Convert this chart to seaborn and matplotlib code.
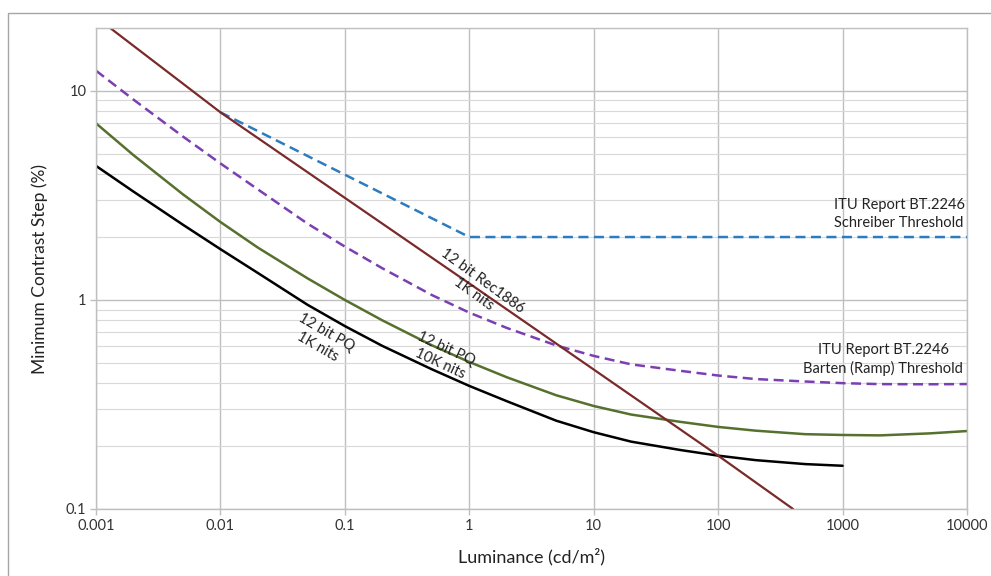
import matplotlib
matplotlib.use("Agg")
import matplotlib.pyplot as plt
from matplotlib.patches import Rectangle
from matplotlib.ticker import FixedLocator, NullLocator, NullFormatter
import seaborn as sns

# values (luminance in cd/m2, contrast step in %)
rec1886_x = [0.0013, 0.01, 1, 100, 400]
rec1886_y = [20, 7.9, 1.2, 0.18, 0.1]

schreiber_x = [0.01, 1, 10000]
schreiber_y = [7.9, 2, 2]

barten_x = [0.001, 0.002, 0.005, 0.01, 0.02, 0.05, 0.1, 0.2, 0.5, 1, 2, 5, 10,
            20, 50, 100, 200, 500, 1000, 2000, 5000, 10000]
barten_y = [12.5, 9.09, 6.05, 4.5, 3.38, 2.32, 1.8, 1.418, 1.056, 0.87, 0.735, 0.606, 0.54,
            0.492, 0.458, 0.435, 0.4185, 0.4073, 0.40, 0.3957, 0.395, 0.396]

pq10k_x = [0.001, 0.002, 0.005, 0.01, 0.02, 0.05, 0.1, 0.2, 0.5, 1, 2, 5, 10,
           20, 50, 100, 200, 500, 1000, 2000, 5000, 10000]
pq10k_y = [7.0, 4.93, 3.20, 2.36, 1.78, 1.27, 1.0, 0.799, 0.607, 0.505, 0.427, 0.350, 0.311,
           0.283, 0.261, 0.247, 0.237, 0.228, 0.226, 0.225, 0.230, 0.236]

pq1k_x = [0.001, 0.002, 0.005, 0.01, 0.02, 0.05, 0.1, 0.2, 0.5, 1, 2, 5, 10,
          20, 50, 100, 200, 500, 1000]
pq1k_y = [4.38, 3.30, 2.29, 1.75, 1.346, 0.949, 0.75, 0.603, 0.466, 0.388, 0.328, 0.2645, 0.233,
          0.210, 0.1914, 0.18, 0.1713, 0.164, 0.161]

x_ticks = [0.001, 0.01, 0.1, 1, 10, 100, 1000, 10000]
x_tick_labels = ["0.001", "0.01", "0.1", "1", "10", "100", "1000", "10000"]
y_ticks = [0.1, 1, 10]
y_tick_labels = ["0.1", "1", "10"]

sns.set_theme(style="white")
plt.rcParams['font.family'] = ['Lato', 'DejaVu Sans']

fig = plt.figure(figsize=(9.91, 5.76), dpi=100)
ax = fig.add_axes([96 / 991, 1 - 509 / 576, 871 / 991, 481 / 576])
ax.set_xscale('log')
ax.set_yscale('log')

sns.lineplot(x=schreiber_x, y=schreiber_y, ax=ax, color='#2e7cbf', lw=1.8,
             linestyle=(0, (4, 2.2)))
sns.lineplot(x=barten_x, y=barten_y, ax=ax, color='#7b3fb2', lw=1.8,
             linestyle=(0, (4, 2.2)))
sns.lineplot(x=pq10k_x, y=pq10k_y, ax=ax, color='#56702e', lw=1.8)
sns.lineplot(x=pq1k_x, y=pq1k_y, ax=ax, color='#000000', lw=1.8)
sns.lineplot(x=rec1886_x, y=rec1886_y, ax=ax, color='#7a2a2a', lw=1.6)

ax.set_xlim(0.001, 10000)
ax.set_ylim(0.1, 20)

ax.xaxis.set_major_locator(FixedLocator(x_ticks))
ax.set_xticklabels(x_tick_labels)
ax.xaxis.set_minor_locator(NullLocator())
ax.yaxis.set_major_locator(FixedLocator(y_ticks))
ax.set_yticklabels(y_tick_labels)
ax.yaxis.set_minor_locator(FixedLocator([k * d for d in (0.1, 1, 10) for k in range(2, 10)]))
ax.yaxis.set_minor_formatter(NullFormatter())

ax.grid(which='major', axis='both', color='#bfbfbf', lw=1)
ax.grid(which='minor', axis='y', color='#d9d9d9', lw=0.8)
ax.tick_params(which='major', length=4, width=1, color='#bfbfbf',
               labelsize=10.5, labelcolor='#333333', pad=3, bottom=True, left=True)
ax.tick_params(which='minor', length=0)
for s in ax.spines.values():
    s.set_color('#bfbfbf')
    s.set_linewidth(1)

ax.set_xlabel('Luminance (cd/m²)', fontsize=13, color='#222222')
ax.set_ylabel('Minimum Contrast Step (%)', fontsize=12.5, color='#222222')
ax.xaxis.set_label_coords(0.5, -0.08)
ax.yaxis.set_label_coords(-0.055, 0.5)

# curve labels
txt = dict(fontsize=10.5, color='#222222', ha='center', va='center', multialignment='center')
ax.text(2850, 2.58, 'ITU Report BT.2246\nSchreiber Threshold', linespacing=1.3, **txt)
ax.text(2120, 0.52, 'ITU Report BT.2246\nBarten (Ramp) Threshold', linespacing=1.3, **txt)
ax.text(1.18, 1.15, '12 bit Rec1886\n1K nits', rotation=-36, rotation_mode='anchor',
        linespacing=1.2, **txt)
ax.text(0.0656, 0.644, '12 bit PQ\n1K nits', rotation=-30, rotation_mode='anchor',
        linespacing=1.2, **txt)
ax.text(0.615, 0.54, '12 bit PQ\n10K nits', rotation=-25, rotation_mode='anchor',
        linespacing=1.2, **txt)

# outer chart frame
fig.patches.append(Rectangle((8 / 991, -0.05), 1.1, 1 - 13 / 576 + 0.05,
                             transform=fig.transFigure, fill=False,
                             edgecolor='#a6a6a6', lw=1))

fig.savefig('out.png', dpi=100)
